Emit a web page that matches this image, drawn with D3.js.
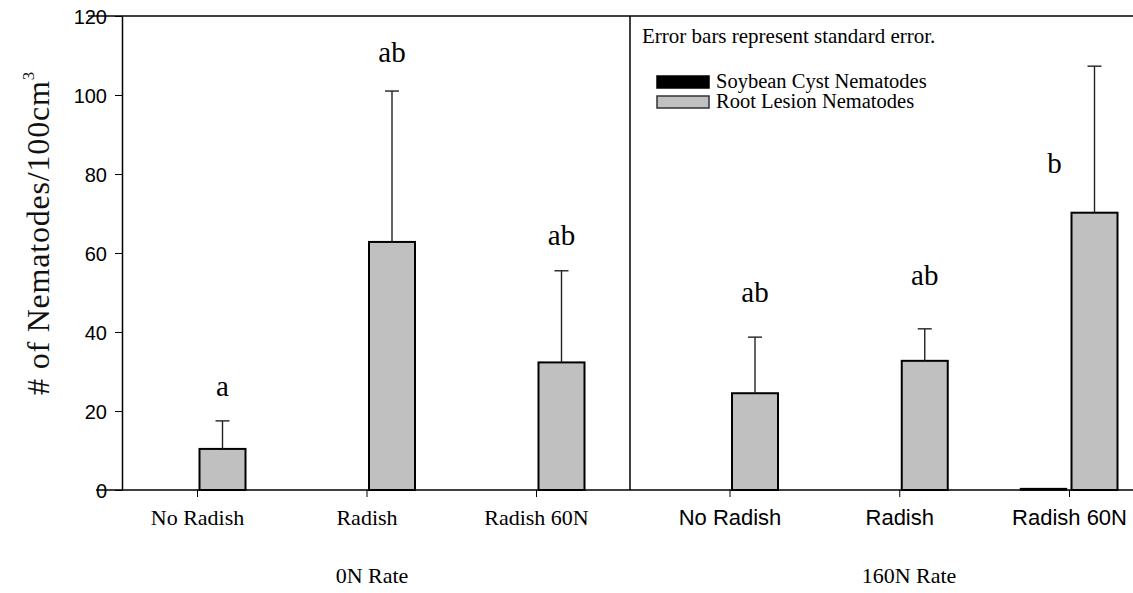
<!DOCTYPE html>
<html>
<head>
<meta charset="utf-8">
<script src="https://cdn.jsdelivr.net/npm/d3@7"></script>
<style>
  html, body { margin: 0; padding: 0; background: #fff; }
  svg { display: block; }
</style>
</head>
<body>
<svg id="chart" width="1133" height="593"></svg>
<script>
// Nematode counts per 100 cm³ of soil, by radish treatment and N rate
const categories = ["No Radish", "Radish", "Radish 60N"];
const panels = ["0N Rate", "160N Rate"];
const seriesNames = ["Soybean Cyst Nematodes", "Root Lesion Nematodes"];

// Soybean cyst nematodes (means), per panel
const scnLow = [0, 0, 0];
const scnHigh = [0, 0, 0.35];
// Root lesion nematodes (means) and standard errors, per panel
const rlnLow = [10.4, 62.8, 32.3];
const rlnHigh = [24.5, 32.7, 70.2];
const rlnSeLow = [7.1, 38.2, 23.2];
const rlnSeHigh = [14.2, 8.1, 37.1];
// Significance letters and the y value where each letter sits
const lettersLow = ["a", "ab", "ab"];
const lettersHigh = ["ab", "ab", "b"];
const letterYLow = [23.8, 108.4, 62.0];
const letterYHigh = [47.5, 51.9, 80.3];

const yTicks = [0, 20, 40, 60, 80, 100, 120];
const note = "Error bars represent standard error.";

// ---- layout ----
const W = 1133, H = 593;
const axisX = 122, dividerX = 630, rightEdge = 1133;
const topY = 16, baseY = 490;
const barW = 46, gap = 2.5;
const serif = "'Liberation Serif', 'Times New Roman', serif";
const sans = "'Liberation Sans', Arial, sans-serif";

const svg = d3.select("#chart");

const y = d3.scaleLinear().domain([0, 120]).range([baseY, topY]);

const panelDefs = [
  { name: panels[0], scn: scnLow, rln: rlnLow, se: rlnSeLow, letters: lettersLow, letterY: letterYLow,
    x: d3.scalePoint().domain(categories).range([197, 536]),
    labelFont: serif, titleX: 372, letterDx: [0, 0, 0] },
  { name: panels[1], scn: scnHigh, rln: rlnHigh, se: rlnSeHigh, letters: lettersHigh, letterY: letterYHigh,
    x: d3.scalePoint().domain(categories).range([729.5, 1069]),
    labelFont: sans, titleX: 909, letterDx: [0, 0, -40] }
];

// frame: top rule, divider
svg.append("line").attr("x1", 88).attr("x2", rightEdge).attr("y1", topY).attr("y2", topY)
  .attr("stroke", "#000").attr("stroke-width", 1.5);
svg.append("line").attr("x1", dividerX).attr("x2", dividerX).attr("y1", topY).attr("y2", baseY)
  .attr("stroke", "#000").attr("stroke-width", 1.5);

// y axis
const yAxis = d3.axisLeft(y).tickValues(yTicks).tickSize(7).tickPadding(8).tickSizeOuter(0);
const gy = svg.append("g").attr("transform", `translate(${axisX},0)`).call(yAxis);
gy.select(".domain").attr("stroke", "#000").attr("stroke-width", 1.5);
gy.selectAll(".tick line").attr("stroke", "#000").attr("stroke-width", 1);
gy.selectAll(".tick text").attr("font-family", sans).attr("font-size", 20).attr("fill", "#000")
  .attr("dy", "0.35em");

// y title
const yt = svg.append("text")
  .attr("transform", `translate(49,233) rotate(-90)`)
  .attr("text-anchor", "middle")
  .attr("font-family", serif).attr("font-size", 32).attr("fill", "#111")
  .attr("letter-spacing", 0.8);
yt.append("tspan").text("# of Nematodes/100cm");
yt.append("tspan").text("3").attr("font-size", 17).attr("dy", "-0.9em");

panelDefs.forEach(p => {
  const x = p.x;
  const rows = categories.map((c, i) => ({
    cat: c, scn: p.scn[i], rln: p.rln[i], se: p.se[i],
    letter: p.letters[i], letterY: p.letterY[i], dx: p.letterDx[i]
  }));

  // soybean cyst bars (left of tick)
  svg.append("g").selectAll("rect").data(rows).join("rect")
    .attr("x", d => x(d.cat) - gap - barW)
    .attr("width", barW)
    .attr("y", d => y(d.scn))
    .attr("height", d => y(0) - y(d.scn))
    .attr("fill", "#000").attr("stroke", "#000").attr("stroke-width", 1.5);

  // root lesion bars (right of tick)
  svg.append("g").selectAll("rect").data(rows).join("rect")
    .attr("x", d => x(d.cat) + gap)
    .attr("width", barW)
    .attr("y", d => y(d.rln))
    .attr("height", d => y(0) - y(d.rln))
    .attr("fill", "#c0c0c0").attr("stroke", "#000").attr("stroke-width", 2);

  // upper error bars
  const eb = svg.append("g").attr("stroke", "#222").attr("stroke-width", 1.4);
  rows.forEach(d => {
    const cx = x(d.cat) + gap + barW / 2;
    eb.append("line").attr("x1", cx).attr("x2", cx).attr("y1", y(d.rln)).attr("y2", y(d.rln + d.se));
    eb.append("line").attr("x1", cx - 7).attr("x2", cx + 7).attr("y1", y(d.rln + d.se)).attr("y2", y(d.rln + d.se));
  });

  // significance letters
  svg.append("g").selectAll("text").data(rows).join("text")
    .attr("x", d => x(d.cat) + gap + barW / 2 + d.dx)
    .attr("y", d => y(d.letterY))
    .attr("text-anchor", "middle")
    .attr("font-family", serif).attr("font-size", 29).attr("fill", "#000")
    .text(d => d.letter);

  // x ticks and labels
  const xa = d3.axisBottom(x).tickSize(7).tickPadding(12).tickSizeOuter(0);
  const gx = svg.append("g").attr("transform", `translate(0,${baseY})`).call(xa);
  gx.select(".domain").remove();
  gx.selectAll(".tick line").attr("stroke", "#000").attr("stroke-width", 1);
  gx.selectAll(".tick text").attr("font-family", p.labelFont).attr("font-size", 22).attr("fill", "#000")
    .attr("dy", "0.71em");

  // panel title
  svg.append("text").attr("x", p.titleX).attr("y", 583)
    .attr("text-anchor", "middle").attr("font-family", serif).attr("font-size", 22).attr("fill", "#000")
    .text(p.name);
});

// baseline drawn over the bar bottoms
svg.append("line").attr("x1", 96).attr("x2", rightEdge).attr("y1", baseY).attr("y2", baseY)
  .attr("stroke", "#000").attr("stroke-width", 1.5);

// legend
const lg = svg.append("g");
lg.append("text").attr("x", 642).attr("y", 43)
  .attr("font-family", serif).attr("font-size", 21).attr("fill", "#000").text(note);
const legendFills = ["#000", "#c0c0c0"];
seriesNames.forEach((s, i) => {
  const ly = 76 + i * 20;
  lg.append("rect").attr("x", 657).attr("y", ly).attr("width", 52).attr("height", 12)
    .attr("fill", legendFills[i]).attr("stroke", i === 0 ? "#000" : "#333").attr("stroke-width", 1.5);
  lg.append("text").attr("x", 716).attr("y", ly + 12)
    .attr("font-family", serif).attr("font-size", 20.5).attr("fill", "#000").text(s);
});
</script>
</body>
</html>
